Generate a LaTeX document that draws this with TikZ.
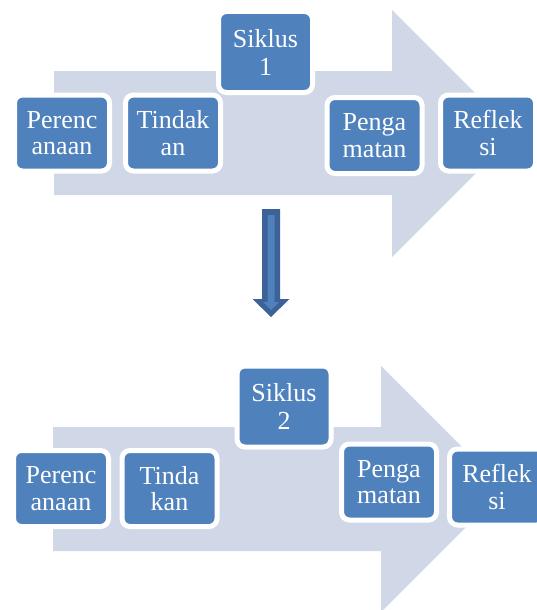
\documentclass[tikz,border=0pt]{standalone}
\usepackage{fontspec}
\setmainfont{Liberation Serif}
\definecolor{boxblue}{HTML}{4F81BD}
\definecolor{arrowlight}{HTML}{D0D8E8}
\definecolor{arrowdark}{HTML}{3D6298}
\begin{document}
\begin{tikzpicture}[x=1pt,y=-1pt,
  stepbox/.style={draw=white, line width=5pt, fill=boxblue, rounded corners=8pt,
    text=white, align=center, inner sep=0pt, font=\fontsize{26}{26.5}\selectfont,
    minimum width=95pt, minimum height=76pt},
  cyclebox/.style={stepbox, minimum width=94pt, minimum height=81pt, font=\fontsize{26}{28}\selectfont},
  bigarrow/.style={fill=arrowlight}]
\useasboundingbox (0,0) rectangle (537,610);
% top big arrow
\fill[bigarrow] (54,71) -- (392,71) -- (392,10) -- (515.5,133.5) -- (392,257) -- (392,195) -- (54,195) -- cycle;
% bottom big arrow
\fill[bigarrow] (53,427) -- (381,427) -- (381,366) -- (504,489) -- (381,612) -- (381,551) -- (53,551) -- cycle;
% top boxes
\node[stepbox] (p1) at (62,133) {Perenc\\anaan};
\node[stepbox] (t1) at (173,133) {Tindak\\an};
\node[cyclebox] (s1) at (265.5,52) {Siklus\\1};
\node[stepbox] (g1) at (374.5,135.5) {Penga\\matan};
\node[stepbox] (r1) at (488,133) {Reflek\\si};
% bottom boxes
\node[stepbox] (p2) at (61,488.5) {Perenc\\anaan};
\node[stepbox] (t2) at (169.5,488.5) {Tinda\\kan};
\node[cyclebox] (s2) at (284,406.5) {Siklus\\2};
\node[stepbox] (g2) at (389,482) {Penga\\matan};
\node[stepbox] (r2) at (497,487) {Reflek\\si};
% down arrow between cycles
\coordinate (dtop) at (271,209);
\coordinate (dtip) at (271,317);
\fill[arrowdark] ([xshift=-9pt]dtop) -- ([xshift=9pt]dtop) -- (280,299) -- (289.5,299) -- (dtip) -- (252.5,299) -- (262,299) -- cycle;
\fill[boxblue] (267.5,215) -- (274.5,215) -- (274.5,302) -- (279,302) -- (271,310) -- (263,302) -- (267.5,302) -- cycle;
\end{tikzpicture}
\end{document}
